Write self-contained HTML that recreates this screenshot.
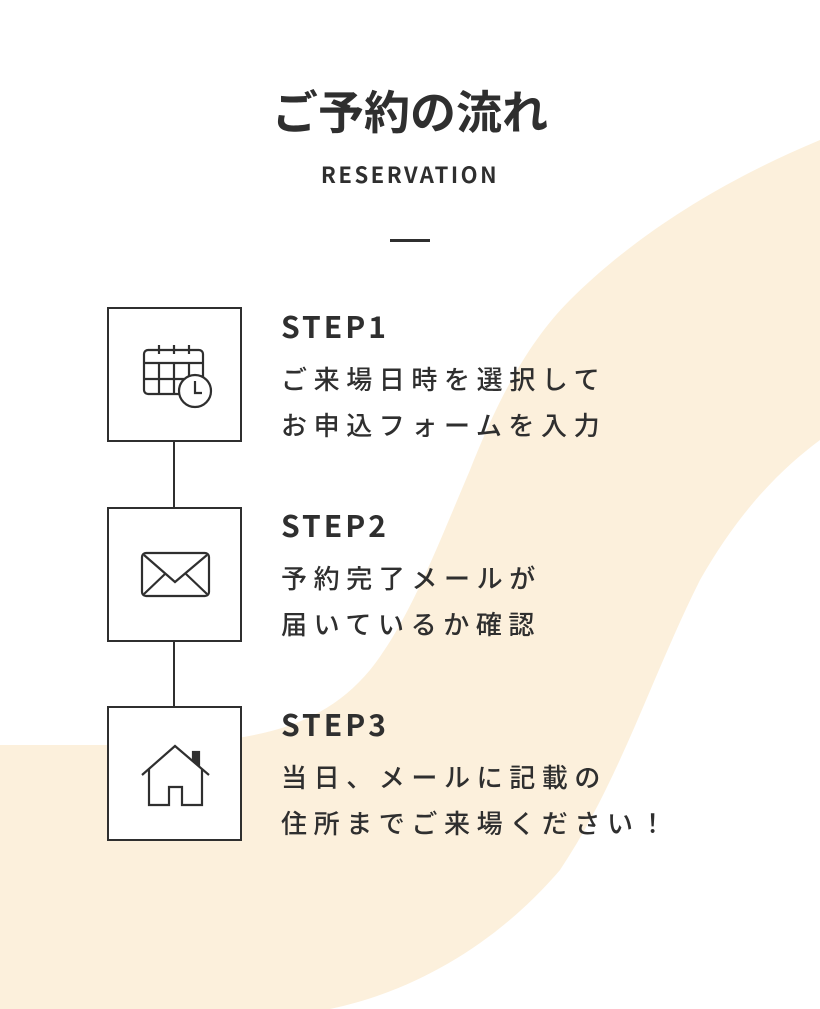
<!DOCTYPE html>
<html><head><meta charset="utf-8"><style>
body{margin:0;width:820px;height:1009px;overflow:hidden;background:#fff;position:relative;font-family:"Liberation Sans","Noto Sans CJK JP",sans-serif;color:#2f2f2f}
svg.bg{position:absolute;left:0;top:0}
.t{position:absolute;left:0;width:820px;text-align:center}
.box{position:absolute;left:107px;width:131px;height:131px;border:2px solid #2f2f2f;background:#fff;box-sizing:content-box}
.box svg{position:absolute;left:0;top:0}
.vl{position:absolute;left:173px;width:2px;background:#2f2f2f}
.st{position:absolute;left:281px;font-family:"Noto Sans CJK JP",sans-serif;font-weight:700;font-size:30px;letter-spacing:3px;line-height:1}
.tx{position:absolute;left:281px;font-family:"Noto Sans CJK JP",sans-serif;font-weight:500;font-size:26px;letter-spacing:6.6px;line-height:46px;white-space:nowrap}
</style></head><body>
<svg class="bg" width="820" height="1009"><path d="M820,140 C700,190 620,250 570,300 C520,350 490,420 470,470 C440,540 410,620 370,670 C320,730 250,745 120,745 L0,745 L0,1009 L330,1009 C420,990 500,940 560,870 C620,780 650,680 700,580 C740,510 780,470 820,440 Z" fill="#fcf0dc"/></svg>
<div class="t" style="top:80px;font-family:'Noto Sans CJK JP',sans-serif;font-weight:700;font-size:46px;line-height:60px">ご予約の流れ</div>
<div class="t" style="top:159px;font-family:'Noto Sans CJK JP',sans-serif;font-weight:700;font-size:22px;letter-spacing:2.5px;line-height:30px">RESERVATION</div>
<div style="position:absolute;left:390px;top:239px;width:40px;height:3px;background:#2f2f2f"></div>
<div class="vl" style="top:441px;height:67px"></div>
<div class="vl" style="top:640px;height:67px"></div>
<div class="box" style="top:307px"><svg width="131" height="131" fill="none" stroke="#2f2f2f" stroke-width="2.2">
<rect x="35" y="41" width="59" height="44" rx="4"/><line x1="35" y1="54" x2="94" y2="54"/><line x1="35" y1="70" x2="94" y2="70"/><line x1="50" y1="54" x2="50" y2="85"/><line x1="65" y1="54" x2="65" y2="85"/><line x1="80" y1="54" x2="80" y2="85"/><line x1="50" y1="36" x2="50" y2="45"/><line x1="65" y1="36" x2="65" y2="45"/><line x1="80" y1="36" x2="80" y2="45"/>
<circle cx="86" cy="82" r="16" fill="#fff"/><polyline points="86,72 86,84 93,84"/></svg></div>
<div class="box" style="top:507px"><svg width="131" height="131" fill="none" stroke="#2f2f2f" stroke-width="2.2">
<rect x="33" y="44" width="67" height="43" rx="4"/><polyline points="35,46 66,73 98,46"/><line x1="35" y1="85" x2="56" y2="65"/><line x1="98" y1="85" x2="77" y2="65"/></svg></div>
<div class="box" style="top:706px"><svg width="131" height="131" fill="none" stroke="#2f2f2f" stroke-width="2.2">
<rect x="84" y="44" width="6" height="14" fill="#2f2f2f"/><polyline points="33,67 66,38 100,67" fill="#fff"/><polyline points="40,61 40,97 60,97 60,79 73,79 73,97 93,97 93,61"/></svg></div>
<div class="st" style="top:310px">STEP1</div>
<div class="tx" style="top:356px">ご来場日時を選択して<br>お申込フォームを入力</div>
<div class="st" style="top:509px">STEP2</div>
<div class="tx" style="top:555px">予約完了メールが<br>届いているか確認</div>
<div class="st" style="top:708px">STEP3</div>
<div class="tx" style="top:754px">当日、メールに記載の<br>住所までご来場ください！</div>
</body></html>
